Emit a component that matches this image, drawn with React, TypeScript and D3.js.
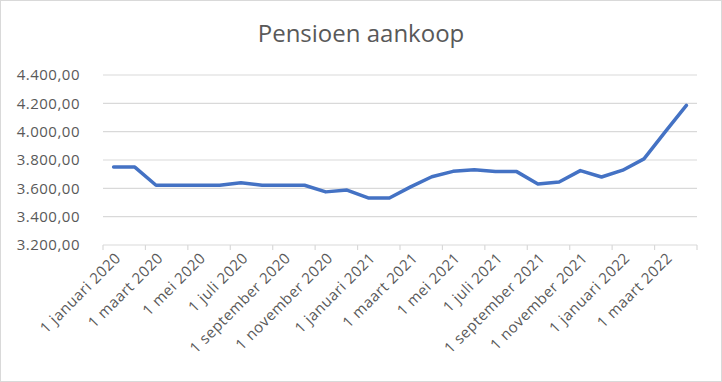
import React from "react";
import * as d3 from "d3";

const months: string[] = [
  "januari", "februari", "maart", "april", "mei", "juni",
  "juli", "augustus", "september", "oktober", "november", "december",
];
const startYear = 2020;
const values: number[] = [
  3750, 3750, 3622, 3622, 3622, 3622, 3640, 3622, 3622, 3622,
  3575, 3588, 3532, 3532, 3610, 3682, 3720, 3732, 3718, 3718,
  3630, 3645, 3725, 3680, 3728, 3808, 3998, 4185,
];
const yTicks: number[] = [3200, 3400, 3600, 3800, 4000, 4200, 4400];
const title = "Pensioen aankoop";

const W = 722;
const H = 382;
const left = 103;
const right = 697;
const top = 75;
const bottom = 245;
const font = "'Open Sans', 'Liberation Sans', sans-serif";
const textColor = "#595959";
const gridColor = "#d9d9d9";

const nl = d3.formatLocale({ decimal: ",", thousands: ".", grouping: [3], currency: ["€", ""] });
const fmt = nl.format(",.2f");

export default function App() {
  React.useEffect(() => {
    document.body.style.margin = "0";
  }, []);
  const n = values.length;
  const labels = values.map((_, i) => {
    const m = i % 12;
    const y = startYear + Math.floor(i / 12);
    return `1 ${months[m]} ${y}`;
  });
  const x = d3.scaleBand<number>().domain(d3.range(n)).range([left, right]).padding(0);
  const y = d3.scaleLinear().domain([3200, 4400]).range([bottom, top]);
  const line = d3
    .line<number>()
    .x((_, i) => (x(i) as number) + x.bandwidth() / 2)
    .y((d) => y(d));
  const tickIdx = d3.range(0, n + 1, 2);
  return (
    <svg width={W} height={H} style={{ position: "absolute", left: 0, top: 0, display: "block" }}>
      <rect x={0.5} y={0.5} width={W - 1} height={H - 1} fill="#fff" stroke={gridColor} />
      <text x={361} y={42} textAnchor="middle" fontFamily={font} fontSize={24} fill={textColor}>
        {title}
      </text>
      {yTicks.map((t) => (
        <g key={t}>
          {t !== 3200 && (
            <line x1={left} x2={right} y1={y(t)} y2={y(t)} stroke={gridColor} strokeWidth={1.2} />
          )}
          <text
            x={80}
            y={y(t)}
            dy="0.36em"
            textAnchor="end"
            fontFamily={font}
            fontSize={15}
            letterSpacing={0.5}
            fill={textColor}
          >
            {fmt(t)}
          </text>
        </g>
      ))}
      <line x1={left} x2={right} y1={bottom} y2={bottom} stroke={gridColor} strokeWidth={1.2} />
      {tickIdx.map((i) => {
        const tx = i < n ? (x(i) as number) : right;
        return <line key={i} x1={tx} x2={tx} y1={bottom} y2={bottom + 5} stroke={gridColor} strokeWidth={1.2} />;
      })}
      {labels.map((lab, i) =>
        i % 2 === 0 ? (
          <text
            key={i}
            transform={`translate(${(x(i) as number) + x.bandwidth() / 2 + 8},${bottom + 14}) rotate(-45)`}
            textAnchor="end"
            fontFamily={font}
            fontSize={15}
            letterSpacing={0.5}
            fill={textColor}
          >
            {lab}
          </text>
        ) : null
      )}
      <path
        d={line(values) || ""}
        fill="none"
        stroke="#4472C4"
        strokeWidth={3.5}
        strokeLinejoin="round"
        strokeLinecap="round"
      />
    </svg>
  );
}
